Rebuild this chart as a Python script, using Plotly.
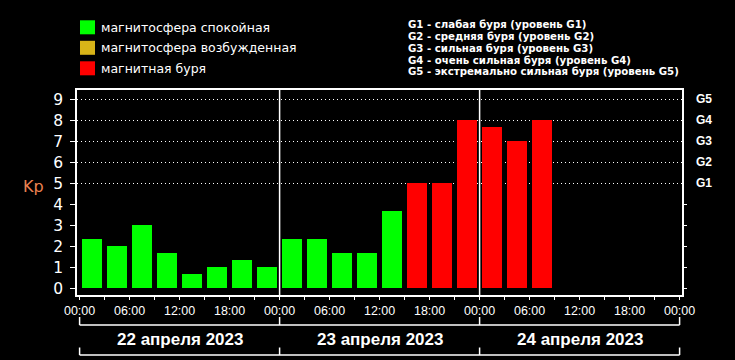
import plotly.graph_objects as go
import pandas as pd

# ---------------- data ----------------
days = ["2023-04-22", "2023-04-23", "2023-04-24"]
day_labels = ["22 апреля 2023", "23 апреля 2023", "24 апреля 2023"]
slot_starts = ["00:00", "03:00", "06:00", "09:00", "12:00", "15:00", "18:00", "21:00"]
kp_apr22 = [2.33, 2.0, 3.0, 1.67, 0.67, 1.0, 1.33, 1.0]
kp_apr23 = [2.33, 2.33, 1.67, 1.67, 3.67, 5.0, 5.0, 8.0]
kp_apr24 = [7.67, 7.0, 8.0]
g_levels = [5, 6, 7, 8, 9]
g_labels = ["G1", "G2", "G3", "G4", "G5"]
legend_left = ["магнитосфера спокойная", "магнитосфера возбужденная", "магнитная буря"]
legend_right = [
    "G1 - слабая буря (уровень G1)",
    "G2 - средняя буря (уровень G2)",
    "G3 - сильная буря (уровень G3)",
    "G4 - очень сильная буря (уровень G4)",
    "G5 - экстремально сильная буря (уровень G5)",
]

GREEN = "#00ff00"
YELLOW = "#d8b418"
RED = "#ff0000"
WHITE = "#ffffff"

kp_values = kp_apr22 + kp_apr23 + kp_apr24
times = []
for d, vals in zip(days, [kp_apr22, kp_apr23, kp_apr24]):
    for s, _ in zip(slot_starts, vals):
        times.append(f"{d} {s}")


def kp_color(v):
    if v >= 5:
        return RED
    if v >= 4:
        return YELLOW
    return GREEN


colors = [kp_color(v) for v in kp_values]

# ---------------- geometry helpers ----------------
W_FIG, H_FIG = 735, 360
L, T, PW, PH = 77, 90, 605, 205
B = T + PH


def px_x(p):
    return (p - L) / PW


def px_y(p):
    return (B - p) / PH


HOUR = 3600 * 1000
day_edges = [pd.Timestamp(d) for d in days] + [pd.Timestamp(days[-1]) + pd.Timedelta(days=1)]
day_mids = [e + pd.Timedelta(hours=12) for e in day_edges[:-1]]
x_start = day_edges[0] - pd.Timedelta(minutes=18.7)
x_end = day_edges[-1] + pd.Timedelta(minutes=17.3)
y_range = [-0.32, 9.44]

fig = go.Figure()
fig.add_trace(go.Bar(
    x=times, y=kp_values,
    xperiod=3 * HOUR, xperiodalignment="middle",
    width=2.4 * HOUR,
    marker=dict(color=colors, line=dict(width=0)),
    showlegend=False,
    hoverinfo="x+y",
))
fig.add_trace(go.Scatter(x=[], y=[], yaxis="y2", showlegend=False, hoverinfo="skip"))
fig.add_trace(go.Scatter(x=[], y=[], yaxis="y3", showlegend=False, hoverinfo="skip"))

shapes = []
annotations = []

# day separators inside plot
for e in day_edges[1:-1]:
    shapes.append(dict(type="line", xref="x", yref="paper", x0=e, x1=e, y0=0, y1=1,
                       line=dict(color=WHITE, width=1.5), layer="above"))

# brackets below axis
for (ly, ty) in [(325, 317), (355, 347.5)]:
    shapes.append(dict(type="line", xref="x", yref="paper", x0=day_edges[0], x1=day_edges[-1],
                       y0=px_y(ly), y1=px_y(ly), line=dict(color=WHITE, width=1.5)))
    for e in day_edges:
        shapes.append(dict(type="line", xref="x", yref="paper", x0=e, x1=e,
                           y0=px_y(ly), y1=px_y(ty), line=dict(color=WHITE, width=1.5)))

for m, lab in zip(day_mids, day_labels):
    annotations.append(dict(x=m, y=px_y(339.5), xref="x", yref="paper", text=lab, showarrow=False,
                            xanchor="center", yanchor="middle",
                            font=dict(family="Liberation Sans", size=17, color=WHITE, weight="bold")))

# top-left legend
for i, (lab, col) in enumerate(zip(legend_left, [GREEN, YELLOW, RED])):
    cy = 27.3 + i * 20.5
    shapes.append(dict(type="rect", xref="paper", yref="paper",
                       x0=px_x(80), x1=px_x(95), y0=px_y(cy + 7), y1=px_y(cy - 7),
                       fillcolor=col, line=dict(width=0)))
    annotations.append(dict(x=px_x(99), y=px_y(cy), xref="paper", yref="paper", text=lab,
                            showarrow=False, xanchor="left", yanchor="middle",
                            font=dict(family="DejaVu Sans", size=12.5, color=WHITE)))

# top-right legend
for i, lab in enumerate(legend_right):
    cy = 24.6 + i * 11.8
    annotations.append(dict(x=px_x(406), y=px_y(cy), xref="paper", yref="paper", text=lab,
                            showarrow=False, xanchor="left", yanchor="middle",
                            font=dict(family="DejaVu Sans", size=10.2, color=WHITE, weight="bold")))

# Kp label
annotations.append(dict(x=px_x(21), y=px_y(186.5), xref="paper", yref="paper", text="Kp",
                        showarrow=False, xanchor="left", yanchor="middle",
                        font=dict(family="DejaVu Sans", size=16, color="#ec8250")))

fig.update_layout(
    width=W_FIG, height=H_FIG,
    margin=dict(l=L, r=W_FIG - L - PW, t=T, b=H_FIG - B, pad=0),
    paper_bgcolor="black", plot_bgcolor="black",
    bargap=0,
    shapes=shapes, annotations=annotations,
    xaxis=dict(
        type="date", range=[x_start, x_end],
        tickformat="%H:%M", tick0=days[0], dtick=6 * HOUR,
        ticks="outside", ticklen=3, tickcolor=WHITE, tickwidth=1,
        minor=dict(dtick=3 * HOUR, tick0=days[0], ticks="outside", ticklen=3, tickcolor=WHITE, showgrid=False),
        tickfont=dict(family="Liberation Sans", size=12.5, color=WHITE),
        showline=True, mirror=True, linecolor=WHITE, linewidth=1.5,
        showgrid=False, zeroline=False, fixedrange=True,
    ),
    yaxis=dict(
        range=y_range, tickvals=list(range(10)),
        ticks="outside", ticklen=5, tickcolor=WHITE,
        tickfont=dict(family="DejaVu Sans", size=15.5, color=WHITE),
        ticklabelstandoff=4,
        showline=True, mirror=True, linecolor=WHITE, linewidth=1.5,
        showgrid=False, zeroline=False, fixedrange=True,
    ),
    yaxis2=dict(
        range=y_range, overlaying="y", side="right",
        tickvals=g_levels, ticktext=g_labels, ticks="",
        tickfont=dict(family="Liberation Sans", size=12, color=WHITE, weight="bold"),
        ticklabelstandoff=13,
        showgrid=True, gridcolor=WHITE, gridwidth=1, griddash="1px,3px",
        showline=False, zeroline=False, fixedrange=True,
    ),
    yaxis3=dict(
        range=y_range, overlaying="y", side="right",
        tickvals=list(range(5)), ticks="outside", ticklen=4, tickcolor=WHITE,
        showticklabels=False, showgrid=False, showline=False, zeroline=False, fixedrange=True,
    ),
)

fig.write_html("out.html")
